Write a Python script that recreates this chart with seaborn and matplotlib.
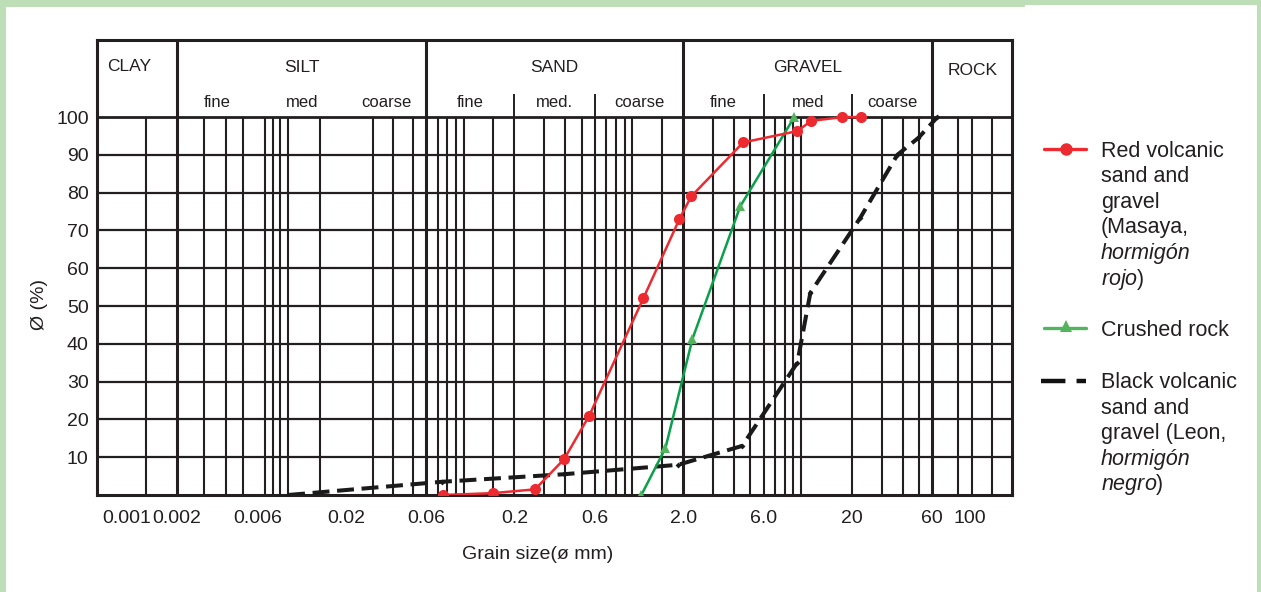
import matplotlib
matplotlib.use("Agg")
import matplotlib.pyplot as plt
from matplotlib.lines import Line2D
from matplotlib.patches import Rectangle
from matplotlib.ticker import NullLocator
import seaborn as sns

# ── Data (grain size in mm, % passing) ─────────────────────────────────────
red_size = [0.075, 0.15, 0.265, 0.394, 0.555, 1.16, 1.90, 2.23, 4.54, 9.5, 11.5, 17.6, 22.8]
red_pass = [0, 0.5, 1.5, 9.5, 21, 52, 73, 79, 93.3, 96.3, 99, 100, 100]

green_size = [1.13, 1.57, 2.27, 4.36, 9.12]
green_pass = [0, 12.4, 41.3, 76.4, 100]

black_size = [0.0091, 0.0745, 0.394, 1.87, 4.48, 9.5, 11.35, 22.4, 37.2, 49.6, 64.3]
black_pass = [0, 3.5, 5.5, 8, 13, 35, 53.5, 73.3, 90, 94.5, 100]

# ── Axis / classification scheme ───────────────────────────────────────────
xtick_vals = [0.001, 0.002, 0.006, 0.02, 0.06, 0.2, 0.6, 2, 6, 20, 60, 100]
xtick_labels = ["0.001", "0.002", "0.006", "0.02", "0.06", "0.2", "0.6",
                "2.0", "6.0", "20", "60", "100"]
ytick_vals = [10, 20, 30, 40, 50, 60, 70, 80, 90, 100]

class_names = ["CLAY", "SILT", "SAND", "GRAVEL", "ROCK"]
class_bounds = [0.002, 0.06, 2, 60]
sub_names = ["fine", "med", "coarse", "fine", "med.", "coarse", "fine", "med", "coarse"]
sub_edges = [0.002, 0.006, 0.02, 0.06, 0.2, 0.6, 2, 6, 20, 60]
header_ticks = [0.2, 0.6, 6, 20]

# printed log-paper rulings
grid_x = [0.0013,
          0.0029, 0.0039, 0.0049, 0.0066, 0.0074, 0.0082, 0.0091, 0.014, 0.029, 0.038, 0.05,
          0.07, 0.08, 0.09, 0.1, 0.15, 0.2, 0.3, 0.4, 0.5, 0.6, 0.7, 0.8, 0.9, 1.0, 1.5,
          3, 4, 5, 6, 7, 8, 9, 10, 20, 30, 40, 50,
          85, 103, 136]
grid_y = [10, 20, 30, 40, 50, 60, 70, 80, 90]

legend_labels = [
    ["Red volcanic", "sand and", "gravel", "(Masaya,", "hormigón", r"$\mathit{rojo}$)"],
    ["Crushed rock"],
    ["Black volcanic", "sand and", "gravel (Leon,", "hormigón", r"$\mathit{negro}$)"],
]

RED = "#ec2a30"
GREEN = "#0aa04a"
GREEN_MK = "#52b45e"
INK = "#231f20"
BORDER = "#bedeb8"

XMIN, XMAX = 0.00067, 178
YTOP = 120.4

# ── Style ──────────────────────────────────────────────────────────────────
sns.set_style("white")
plt.rcParams["font.family"] = ["Liberation Sans", "DejaVu Sans"]
plt.rcParams["mathtext.fontset"] = "custom"
plt.rcParams["mathtext.rm"] = "Liberation Sans"
plt.rcParams["mathtext.it"] = "Liberation Sans:italic"
plt.rcParams["text.color"] = INK

fig = plt.figure(figsize=(12.61, 5.92), dpi=100, facecolor=BORDER)
W, H = 1261, 592
fig.patches.append(Rectangle((6 / W, 0), 1251 / W, 585 / H, transform=fig.transFigure,
                             facecolor="white", edgecolor="none", zorder=-2))
fig.patches.append(Rectangle((1025 / W, 585 / H), 232 / W, 2 / H, transform=fig.transFigure,
                             facecolor="white", edgecolor="none", zorder=-2))

ax = fig.add_axes([97 / W, 97 / H, 915 / W, 455 / H])
ax.set_facecolor("white")
ax.set_xscale("log")
ax.set_xlim(XMIN, XMAX)
ax.set_ylim(0, YTOP)

# ── Grid ───────────────────────────────────────────────────────────────────
ax.vlines(grid_x, 0, 100, color=INK, lw=1.5, zorder=1)
ax.vlines(class_bounds, 0, YTOP, color=INK, lw=2.2, zorder=1)
ax.vlines(header_ticks, 100, 106, color=INK, lw=1.4, zorder=1)
for gy in grid_y:
    ax.axhline(gy, color=INK, lw=1.6, zorder=1)
ax.axhline(100, color=INK, lw=2.0, zorder=1)

# ── Curves ─────────────────────────────────────────────────────────────────
sns.lineplot(x=black_size, y=black_pass, ax=ax, color="#1a1a1a", lw=2.9,
             linestyle=(0, (4.2, 1.9)), marker="D", ms=3, mec="#1a1a1a", mew=0,
             legend=False, zorder=4)
sns.lineplot(x=green_size, y=green_pass, ax=ax, color=GREEN, lw=1.8,
             marker="^", ms=6.5, mfc=GREEN_MK, mec=GREEN_MK, mew=0,
             legend=False, zorder=5)
sns.lineplot(x=red_size, y=red_pass, ax=ax, color=RED, lw=1.8,
             marker="o", ms=8, mec=RED, mew=0, legend=False, zorder=6)

# ── Header labels ──────────────────────────────────────────────────────────
edges = [XMIN] + class_bounds + [XMAX]
for i, name in enumerate(class_names):
    if i == 0:
        ax.annotate(name, xy=(XMIN, 112.2), xytext=(7, 0), textcoords="offset points",
                    ha="left", va="baseline", fontsize=12.5, color=INK)
    else:
        xc = (edges[i] * edges[i + 1]) ** 0.5
        yb = 111.2 if name == "ROCK" else 112.0
        ax.text(xc, yb, name, ha="center", va="baseline", fontsize=12.5, color=INK)

for i, name in enumerate(sub_names):
    xc = (sub_edges[i] * sub_edges[i + 1]) ** 0.5
    ax.text(xc, 102.6, name, ha="center", va="baseline", fontsize=12, color=INK)

# ── Axes, ticks, labels ────────────────────────────────────────────────────
ax.set_xticks(xtick_vals)
ax.set_xticklabels(xtick_labels)
ax.xaxis.set_minor_locator(NullLocator())
ax.set_yticks(ytick_vals)
ax.tick_params(axis="x", length=0, pad=11, labelsize=14, labelcolor=INK)
ax.tick_params(axis="y", length=0, pad=6, labelsize=14, labelcolor=INK)
ax.grid(False)
for sp in ax.spines.values():
    sp.set_color(INK)
    sp.set_linewidth(2.2)
    sp.set_visible(True)

ax.set_xlabel("Grain size(ø mm)", fontsize=14, color=INK)
ax.xaxis.set_label_coords(0.482, -0.112)
ax.set_ylabel("Ø (%)", fontsize=14, color=INK)
ax.yaxis.set_label_coords(-0.054, 0.418)

# ── Legend (drawn in a pixel-space side panel) ─────────────────────────────
lax = fig.add_axes([1030 / W, 0, 231 / W, 1])
lax.set_xlim(1030, 1261)
lax.set_ylim(592, 0)
lax.axis("off")

lax.add_line(Line2D([1044, 1086], [149, 149], color=RED, lw=2.4))
lax.add_line(Line2D([1066], [149], color=RED, marker="o", ms=9, mew=0))
lax.add_line(Line2D([1044, 1086], [328, 328], color=GREEN_MK, lw=2.4))
lax.add_line(Line2D([1066], [326], color=GREEN_MK, marker="^", ms=9, mew=0))
lax.add_line(Line2D([1041, 1086], [381, 381], color="#111111", lw=3.2,
                    linestyle=(0, (5.5, 2.5))))

starts = [157, 336, 388]
for lines, y0 in zip(legend_labels, starts):
    for k, line in enumerate(lines):
        style = "italic" if line == "hormigón" else "normal"
        lax.text(1101, y0 + k * 25.5, line, ha="left", va="baseline",
                 fontsize=15.5, fontstyle=style, color=INK)

fig.savefig("out.png", dpi=100, facecolor=fig.get_facecolor())
